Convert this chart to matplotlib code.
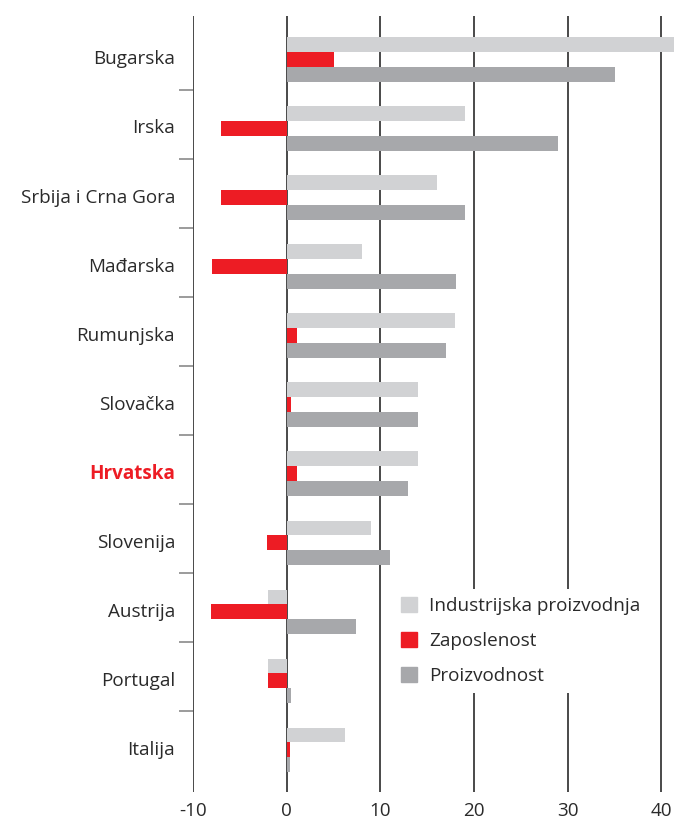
import numpy as np
import matplotlib.pyplot as plt
from matplotlib.patches import Patch

plt.rcParams['font.family'] = ['Open Sans', 'DejaVu Sans']
plt.rcParams['axes.unicode_minus'] = False

zemlje = ['Bugarska', 'Irska', 'Srbija i Crna Gora', 'Mađarska', 'Rumunjska',
          'Slovačka', 'Hrvatska', 'Slovenija', 'Austrija', 'Portugal', 'Italija']
industrija = [42, 19, 16, 8, 18, 14, 14, 9, -2, -2, 6.2]
zaposlenost = [5, -7, -7, -8, 1.1, 0.5, 1.1, -2.1, -8.1, -2, 0.4]
proizvodnost = [35, 29, 19, 18.1, 17, 14, 13, 11, 7.4, 0.5, 0.4]

c_light = '#d1d2d4'
c_red = '#ed1c24'
c_dark = '#a7a8ab'
c_text = '#2a2a2a'
fs = 13.6

fig = plt.figure(figsize=(6.74, 8.22), dpi=100)
ax = fig.add_axes([193 / 674, 1 - 792 / 822, 1 - 193 / 674, 776 / 822])

y = np.arange(len(zemlje))
h = 0.215
ax.barh(y - h, industrija, height=h, color=c_light, zorder=2)
ax.barh(y, zaposlenost, height=h, color=c_red, zorder=2)
ax.barh(y + h, proizvodnost, height=h, color=c_dark, zorder=2)

ax.set_xlim(-10, 41.35)
ax.set_ylim(10.61, -0.63)

# vertical grid lines
for v in [-10, 0, 10, 20, 30, 40]:
    ax.axvline(v, color='#3a3a3a', lw=1.3, zorder=1)

for s in ax.spines.values():
    s.set_visible(False)

ax.set_xticks([-10, 0, 10, 20, 30, 40])
ax.tick_params(axis='x', length=0, labelsize=fs, colors=c_text, pad=7)
ax.set_yticks(y - 0.03)
ax.set_yticklabels(zemlje)
ax.tick_params(axis='y', which='major', length=0, labelsize=fs, colors=c_text, pad=13)
ax.set_yticks(y[:-1] + 0.44, minor=True)
ax.tick_params(axis='y', which='minor', length=10, width=1.2, color='#8a8a8a')

for lbl in ax.get_yticklabels():
    if lbl.get_text() == 'Hrvatska':
        lbl.set_color(c_red)
        lbl.set_fontweight('bold')

handles = [Patch(color=c_light, label='Industrijska proizvodnja'),
           Patch(color=c_red, label='Zaposlenost'),
           Patch(color=c_dark, label='Proizvodnost')]
leg = ax.legend(handles=handles, loc='upper left',
                bbox_to_anchor=(384 / 674, 1 - 580 / 822), bbox_transform=fig.transFigure,
                frameon=True, fontsize=fs, handlelength=0.85, handleheight=0.85,
                handletextpad=0.65, labelspacing=0.9, borderpad=0.4)
leg.get_frame().set_facecolor('white')
leg.get_frame().set_edgecolor('none')
leg.get_frame().set_alpha(1)
leg.set_zorder(5)
for t in leg.get_texts():
    t.set_color(c_text)

fig.savefig('out.png', dpi=100)
